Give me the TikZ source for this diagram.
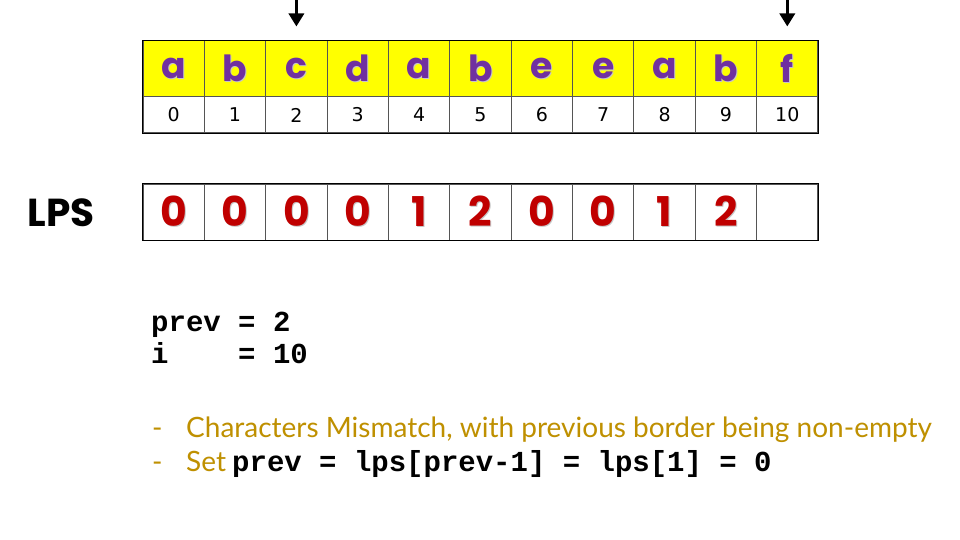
\documentclass[tikz,border=0pt]{standalone}
\usepackage{fontspec}
\setmainfont{Liberation Sans}
\newfontfamily\popfont{Poppins}
\newfontfamily\djfont{DejaVu Sans}
\newfontfamily\codefont{Liberation Mono}
\newfontfamily\goldfont{Lato}
\usetikzlibrary{arrows.meta}
\definecolor{cellyel}{HTML}{FFFF00}
\definecolor{letpurple}{HTML}{7030A0}
\definecolor{digred}{HTML}{C00000}
\definecolor{goldtxt}{HTML}{BF9000}
\definecolor{gridgray}{HTML}{555555}
\newcommand\shadtxt[1]{\raisebox{-2pt}{\rlap{\raisebox{-1pt}{\hspace{1pt}\textcolor{black!22}{#1}}}#1}}
\tikzset{
  cellbox/.style={draw=gridgray, line width=1pt, minimum width=61.36pt, minimum height=56pt, inner sep=0pt, anchor=center},
  letcell/.style={cellbox, fill=cellyel, text=letpurple, font=\popfont\bfseries\fontsize{36}{36}\selectfont},
  idxcell/.style={draw=gridgray, line width=1pt, minimum width=61.36pt, minimum height=36pt, inner sep=0pt, font=\djfont\fontsize{19}{19}\selectfont},
  lpscell/.style={cellbox, text=digred, font=\popfont\bfseries\fontsize{41}{41}\selectfont},
  ptr/.style={line width=3.5pt, -{Triangle[width=15pt,length=13pt]}},
  codetxt/.style={font=\codefont\bfseries\fontsize{29}{29}\selectfont, anchor=base west, inner sep=0pt},
  goldline/.style={text=goldtxt, font=\goldfont\fontsize{28}{28}\selectfont, anchor=base west, inner sep=0pt}
}
\begin{document}
\begin{tikzpicture}[x=1pt,y=-1pt]
\useasboundingbox (0,0) rectangle (960,540);
\fill[white] (0,0) rectangle (960,540);
\foreach \ch [count=\i from 0] in {a,b,c,d,a,b,e,e,a,b,f} {
  \node[letcell] (t\i) at ({143+61.36*\i+30.68},69) {\shadtxt{\ch}};
  \node[idxcell] (x\i) at ({143+61.36*\i+30.68},115) {\i};
}
\foreach \v [count=\i from 0] in {0,0,0,0,1,2,0,0,1,2,{}} {
  \node[lpscell] (l\i) at ({143+61.36*\i+30.68},212) {\shadtxt{\v}};
}
\draw[black, line width=1.2pt] (t0.north west) rectangle (x10.south east);
\draw[black, line width=1.2pt] (l0.north west) rectangle (l10.south east);
\coordinate (pa) at (t2.north |- 0,0);
\coordinate (pb) at (t10.north |- 0,0);
\draw[ptr] (pa) -- ([yshift=14pt]t2.north);
\draw[ptr] (pb) -- ([yshift=14pt]t10.north);
\node[font=\popfont\bfseries\fontsize{39}{39}\selectfont, inner sep=0pt] (lpslab) at (61,213) {LPS};
\node[codetxt] (c1) at (151,331) {prev = 2};
\node[codetxt] (c2) at (151,363) {i\ \ \ \ = 10};
\node[goldline] (g1d) at (152,437) {-};
\node[goldline] (g1) at (186,437) {Characters Mismatch, with previous border being non-empty};
\node[goldline] (g2d) at (152,471) {-};
\node[goldline] (g2) at (186,471) {Set};
\node[codetxt] (g2c) at (232,471) {prev = lps[prev-1] = lps[1] = 0};
\end{tikzpicture}
\end{document}
